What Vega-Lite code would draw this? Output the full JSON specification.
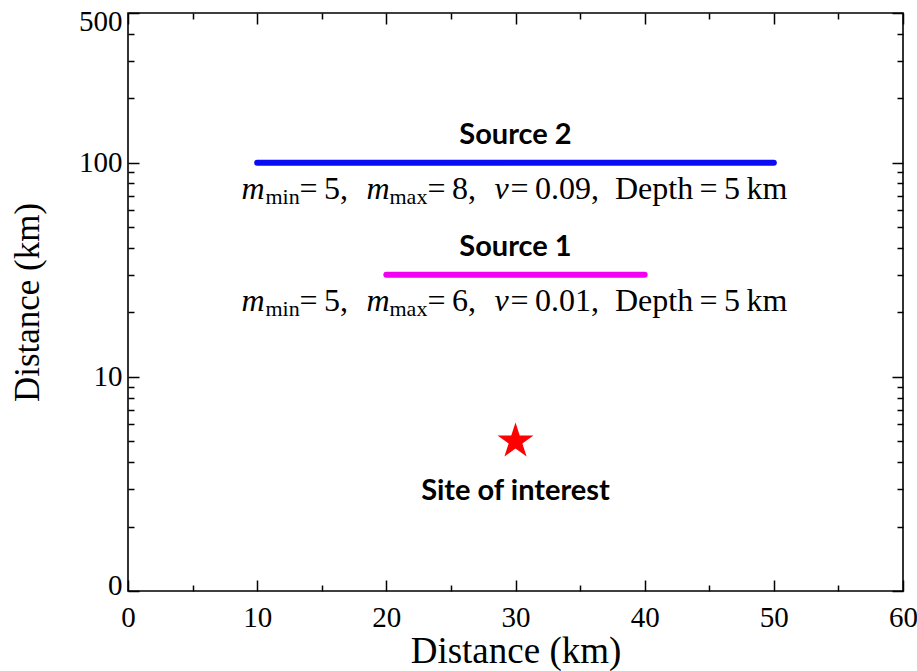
{
  "$schema": "https://vega.github.io/schema/vega-lite/v6.json",
  "width": 775,
  "height": 578,
  "autosize": {"type": "none"},
  "padding": {"left": 128, "top": 13, "right": 14, "bottom": 80},
  "background": "white",
  "config": {
    "view": {"stroke": "black", "strokeWidth": 1.6},
    "axis": {
      "grid": false,
      "domain": false,
      "labelFont": "Liberation Serif",
      "labelFontSize": 29,
      "labelColor": "black",
      "tickColor": "black",
      "tickWidth": 1.5,
      "titleFont": "Liberation Serif",
      "titleColor": "black",
      "titleFontWeight": "normal"
    }
  },
  "datasets": {
    "sources": [
      {"name": "Source 2", "x1": 10, "x2": 50, "xc": 30, "y": 100, "t_min": "\u2009=\u20095,", "t_max": "\u2009=\u20098,", "t_rest": "\u2009=\u20090.09,\u2002Depth\u2009=\u20095\u2009km"},
      {"name": "Source 1", "x1": 20, "x2": 40, "xc": 30, "y": 30, "t_min": "\u2009=\u20095,", "t_max": "\u2009=\u20096,", "t_rest": "\u2009=\u20090.01,\u2002Depth\u2009=\u20095\u2009km"}
    ],
    "sites": [{"sx": 30, "sy": 5, "label": "Site of interest"}]
  },
  "resolve": {"axis": {"x": "independent", "y": "independent"}},
  "layer": [
    {
      "data": {"name": "sources"},
      "mark": {"type": "rule", "strokeWidth": 6, "strokeCap": "round"},
      "encoding": {
        "x": {"field": "x1", "type": "quantitative", "scale": {"domain": [0, 60], "nice": false, "zero": false},
          "axis": {"orient": "bottom", "offset": -11, "values": [0, 10, 20, 30, 40, 50, 60], "tickSize": 11, "labelPadding": 12, "labelFlush": false, "title": "Distance (km)", "titleFontSize": 37, "titlePadding": 1}},
        "x2": {"field": "x2"},
        "y": {"field": "y", "type": "quantitative", "scale": {"type": "log", "domain": [1, 500], "nice": false},
          "axis": {"orient": "left", "offset": -11, "values": [1, 10, 100, 500], "tickSize": 11, "labelPadding": 6, "labelFlush": false, "labelBaseline": "middle", "labelOffset": {"expr": "datum.value == 1 ? -6 : datum.value == 500 ? 8 : 0"}, "labelExpr": "datum.value == 1 ? '0' : format(datum.value, 'd')", "title": "Distance (km)", "titleFontSize": 35, "titlePadding": 33}},
        "color": {"field": "name", "type": "nominal", "scale": {"domain": ["Source 1", "Source 2"], "range": ["#f200f2", "#0a0af5"]}, "legend": null}
      }
    },
    {
      "data": {"name": "sources"},
      "mark": {"type": "text", "font": "Lato", "fontWeight": "bold", "fontSize": 29, "align": "center", "baseline": "alphabetic", "dy": -19, "color": "black"},
      "encoding": {
        "x": {"field": "xc", "type": "quantitative", "scale": {"domain": [0, 60], "nice": false, "zero": false},
          "axis": {"orient": "bottom", "offset": -6, "values": [5, 15, 25, 35, 45, 55], "tickSize": 6, "labels": false, "title": null}},
        "y": {"field": "y", "type": "quantitative", "scale": {"type": "log", "domain": [1, 500], "nice": false},
          "axis": {"orient": "left", "offset": -6, "values": [2, 3, 4, 5, 6, 7, 8, 9, 20, 30, 40, 50, 60, 70, 80, 90, 200, 300, 400], "tickSize": 6, "labels": false, "title": null}},
        "text": {"field": "name"}
      }
    },
    {
      "data": {"name": "sources"},
      "mark": {"type": "text", "text": "m", "font": "Liberation Serif", "fontStyle": "italic", "fontSize": 32, "align": "left", "baseline": "alphabetic", "dx": -274, "dy": 36, "color": "black"},
      "encoding": {
        "x": {"field": "xc", "type": "quantitative", "scale": {"domain": [0, 60], "nice": false, "zero": false},
          "axis": {"orient": "top", "offset": -11, "values": [0, 10, 20, 30, 40, 50, 60], "tickSize": 11, "labels": false, "title": null}},
        "y": {"field": "y", "type": "quantitative", "scale": {"type": "log", "domain": [1, 500], "nice": false},
          "axis": {"orient": "right", "offset": -11, "values": [1, 10, 100, 500], "tickSize": 11, "labels": false, "title": null}}
      }
    },
    {
      "data": {"name": "sources"},
      "mark": {"type": "text", "text": "min", "font": "Liberation Serif", "fontSize": 22, "align": "left", "baseline": "alphabetic", "dx": -250, "dy": 41, "color": "black"},
      "encoding": {
        "x": {"field": "xc", "type": "quantitative", "scale": {"domain": [0, 60], "nice": false, "zero": false},
          "axis": {"orient": "top", "offset": -6, "values": [5, 15, 25, 35, 45, 55], "tickSize": 6, "labels": false, "title": null}},
        "y": {"field": "y", "type": "quantitative", "scale": {"type": "log", "domain": [1, 500], "nice": false},
          "axis": {"orient": "right", "offset": -6, "values": [2, 3, 4, 5, 6, 7, 8, 9, 20, 30, 40, 50, 60, 70, 80, 90, 200, 300, 400], "tickSize": 6, "labels": false, "title": null}}
      }
    },
    {
      "data": {"name": "sources"},
      "mark": {"type": "text", "font": "Liberation Serif", "fontSize": 32, "align": "left", "baseline": "alphabetic", "dx": -216, "dy": 36, "color": "black"},
      "encoding": {
        "x": {"field": "xc", "type": "quantitative", "scale": {"domain": [0, 60], "nice": false, "zero": false}, "axis": null},
        "y": {"field": "y", "type": "quantitative", "scale": {"type": "log", "domain": [1, 500], "nice": false}, "axis": null},
        "text": {"field": "t_min"}
      }
    },
    {
      "data": {"name": "sources"},
      "mark": {"type": "text", "text": "m", "font": "Liberation Serif", "fontStyle": "italic", "fontSize": 32, "align": "left", "baseline": "alphabetic", "dx": -149, "dy": 36, "color": "black"},
      "encoding": {
        "x": {"field": "xc", "type": "quantitative", "scale": {"domain": [0, 60], "nice": false, "zero": false}, "axis": null},
        "y": {"field": "y", "type": "quantitative", "scale": {"type": "log", "domain": [1, 500], "nice": false}, "axis": null}
      }
    },
    {
      "data": {"name": "sources"},
      "mark": {"type": "text", "text": "max", "font": "Liberation Serif", "fontSize": 22, "align": "left", "baseline": "alphabetic", "dx": -126, "dy": 41, "color": "black"},
      "encoding": {
        "x": {"field": "xc", "type": "quantitative", "scale": {"domain": [0, 60], "nice": false, "zero": false}, "axis": null},
        "y": {"field": "y", "type": "quantitative", "scale": {"type": "log", "domain": [1, 500], "nice": false}, "axis": null}
      }
    },
    {
      "data": {"name": "sources"},
      "mark": {"type": "text", "font": "Liberation Serif", "fontSize": 32, "align": "left", "baseline": "alphabetic", "dx": -88, "dy": 36, "color": "black"},
      "encoding": {
        "x": {"field": "xc", "type": "quantitative", "scale": {"domain": [0, 60], "nice": false, "zero": false}, "axis": null},
        "y": {"field": "y", "type": "quantitative", "scale": {"type": "log", "domain": [1, 500], "nice": false}, "axis": null},
        "text": {"field": "t_max"}
      }
    },
    {
      "data": {"name": "sources"},
      "mark": {"type": "text", "text": "ν", "font": "Liberation Serif", "fontStyle": "italic", "fontSize": 32, "align": "left", "baseline": "alphabetic", "dx": -21, "dy": 36, "color": "black"},
      "encoding": {
        "x": {"field": "xc", "type": "quantitative", "scale": {"domain": [0, 60], "nice": false, "zero": false}, "axis": null},
        "y": {"field": "y", "type": "quantitative", "scale": {"type": "log", "domain": [1, 500], "nice": false}, "axis": null}
      }
    },
    {
      "data": {"name": "sources"},
      "mark": {"type": "text", "font": "Liberation Serif", "fontSize": 32, "align": "left", "baseline": "alphabetic", "dx": -5, "dy": 36, "color": "black"},
      "encoding": {
        "x": {"field": "xc", "type": "quantitative", "scale": {"domain": [0, 60], "nice": false, "zero": false}, "axis": null},
        "y": {"field": "y", "type": "quantitative", "scale": {"type": "log", "domain": [1, 500], "nice": false}, "axis": null},
        "text": {"field": "t_rest"}
      }
    },
    {
      "data": {"name": "sites"},
      "mark": {"type": "point", "shape": "M0,-1L0.2245,-0.309L0.951,-0.309L0.363,0.118L0.588,0.809L0,0.382L-0.588,0.809L-0.363,0.118L-0.951,-0.309L-0.2245,-0.309Z", "filled": true, "fill": "#ff0000", "opacity": 1, "fillOpacity": 1, "size": 1430, "strokeWidth": 0},
      "encoding": {
        "x": {"field": "sx", "type": "quantitative", "scale": {"domain": [0, 60], "nice": false, "zero": false}, "axis": null},
        "y": {"field": "sy", "type": "quantitative", "scale": {"type": "log", "domain": [1, 500], "nice": false}, "axis": null}
      }
    },
    {
      "data": {"name": "sites"},
      "mark": {"type": "text", "font": "Lato", "fontWeight": "bold", "fontSize": 29, "align": "center", "baseline": "alphabetic", "dy": 59, "color": "black"},
      "encoding": {
        "x": {"field": "sx", "type": "quantitative", "scale": {"domain": [0, 60], "nice": false, "zero": false}, "axis": null},
        "y": {"field": "sy", "type": "quantitative", "scale": {"type": "log", "domain": [1, 500], "nice": false}, "axis": null},
        "text": {"field": "label"}
      }
    }
  ]
}
